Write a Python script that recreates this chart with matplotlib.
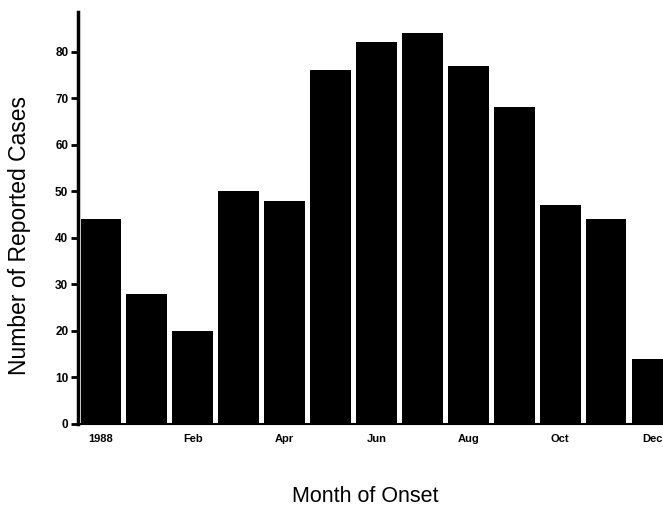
import numpy as np
import matplotlib
matplotlib.use('Agg')
import matplotlib.pyplot as plt

plt.rcParams['font.family'] = ['Liberation Sans', 'DejaVu Sans']

# monthly counts, 13 bars, label every second bar
cases = [44, 28, 20, 50, 48, 76, 82, 84, 77, 68, 47, 44, 14]
tick_labels = ['1988', 'Feb', 'Apr', 'Jun', 'Aug', 'Oct', 'Dec']
y_ticks = [0, 10, 20, 30, 40, 50, 60, 70, 80]

fig = plt.figure(figsize=(6.63, 5.07), dpi=100)
ax = fig.add_axes([78 / 663, 1 - 424 / 507, 1 - 78 / 663, (424 - 12) / 507])

x = np.arange(len(cases))
ax.bar(x, cases, width=0.89, color='black', edgecolor='none')

ax.set_xlim(-0.5, 12.24)
ax.set_ylim(0, 88.5)

ax.set_yticks(y_ticks)
ax.set_yticklabels([str(v) for v in y_ticks], fontsize=8.5, fontweight='bold')
ax.set_xticks(x[::2])
ax.set_xticklabels(tick_labels, fontsize=8, fontweight='bold')

ax.tick_params(axis='y', direction='out', length=5, width=2, pad=2)
ax.tick_params(axis='x', length=0, pad=7)

for s in ['top', 'right']:
    ax.spines[s].set_visible(False)
ax.spines['left'].set_linewidth(2.5)
ax.spines['bottom'].set_linewidth(1.5)

fig.text(20 / 663, 1 - 236 / 507, 'Number of Reported Cases', fontsize=16.5,
         rotation=90, ha='center', va='center')
fig.text(365 / 663, 1 - 496 / 507, 'Month of Onset', fontsize=15.5,
         ha='center', va='center')

fig.savefig('out.png', dpi=100)
